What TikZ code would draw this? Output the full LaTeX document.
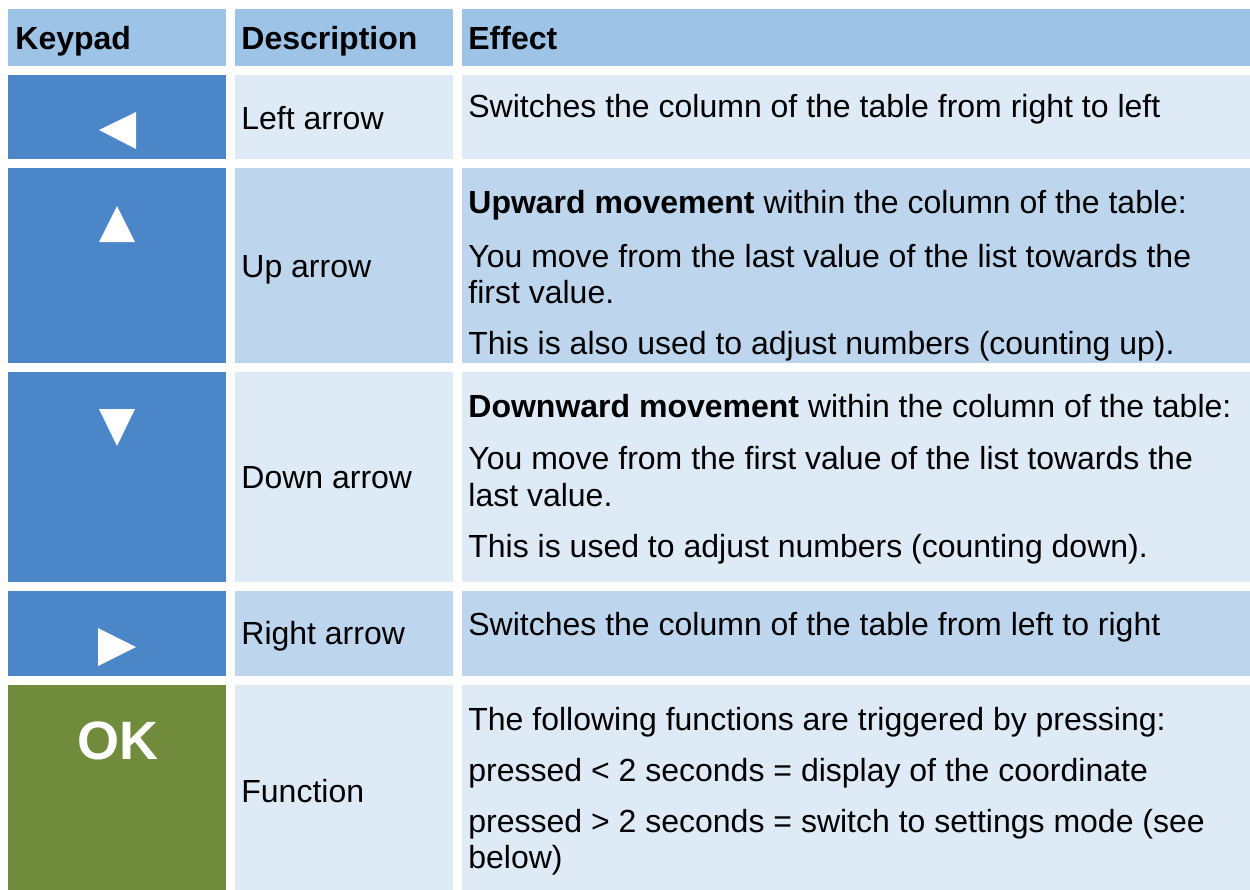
\documentclass[tikz,border=0pt]{standalone}
\usepackage{fontspec}
\setmainfont{Liberation Sans}
\usetikzlibrary{positioning}
\definecolor{headblue}{HTML}{9DC3E6}
\definecolor{keyblue}{HTML}{4A86C8}
\definecolor{rowlight}{HTML}{DEEAF6}
\definecolor{rowmid}{HTML}{BDD6EE}
\definecolor{okgreen}{HTML}{6F8B3B}
\begin{document}
\begin{tikzpicture}[x=0.5pt,y=-0.5pt,
    every node/.style={font=\fontsize{16}{18}\selectfont, inner sep=0pt, anchor=base west},
    head/.style={font=\fontsize{16}{18}\selectfont\bfseries},
    okkey/.style={font=\fontsize{27}{30}\selectfont\bfseries, text=white, anchor=base}]
                \useasboundingbox (0,0) rectangle (1250,890);
                % header
                \fill[headblue] (8,9) rectangle (226,66);
                \fill[headblue] (235,9) rectangle (453,66);
                \fill[headblue] (462,9) rectangle (1250,66);
                \node[head] (hkey) at (15,49) {Keypad};
                \node[head] (hdesc) at (241,49) {Description};
                \node[head] (heff) at (468,49) {Effect};
                % left arrow
                \fill[keyblue] (8,75) rectangle (226,159);
                \fill[rowlight] (235,75) rectangle (453,159);
                \fill[rowlight] (462,75) rectangle (1250,159);
                \fill[white] (99,130) -- (136,112) -- (136,149) -- cycle;
                \node (dleft) at (241,129) {Left arrow};
                \node (eleft) at (468,117) {Switches the column of the table from right to left};
                % up arrow
                \fill[keyblue] (8,168) rectangle (226,363);
                \fill[rowmid] (235,168) rectangle (453,363);
                \fill[rowmid] (462,168) rectangle (1250,363);
                \fill[white] (117,206) -- (135,242) -- (99,242) -- cycle;
                \node (dup) at (241,277) {Up arrow};
                \node (eup1) at (468,213) {\textbf{Upward movement} within the column of the table:};
                \node (eup2) at (468,267) {You move from the last value of the list towards the};
                \node (eup3) at (468,303) {first value.};
                \node (eup4) at (468,354) {This is also used to adjust numbers (counting up).};
                % down arrow
                \fill[keyblue] (8,372) rectangle (226,582);
                \fill[rowlight] (235,372) rectangle (453,582);
                \fill[rowlight] (462,372) rectangle (1250,582);
                \fill[white] (99,409) -- (135,409) -- (117,446) -- cycle;
                \node (ddown) at (241,488) {Down arrow};
                \node (edown1) at (468,417) {\textbf{Downward movement} within the column of the table:};
                \node (edown2) at (468,469) {You move from the first value of the list towards the};
                \node (edown3) at (468,506) {last value.};
                \node (edown4) at (468,557) {This is used to adjust numbers (counting down).};
                % right arrow
                \fill[keyblue] (8,591) rectangle (226,676);
                \fill[rowmid] (235,591) rectangle (453,676);
                \fill[rowmid] (462,591) rectangle (1250,676);
                \fill[white] (98,628) -- (136,647) -- (98,666) -- cycle;
                \node (dright) at (241,644) {Right arrow};
                \node (eright) at (468,635) {Switches the column of the table from left to right};
                % OK
                \fill[okgreen] (8,685) rectangle (226,890);
                \fill[rowlight] (235,685) rectangle (453,890);
                \fill[rowlight] (462,685) rectangle (1250,890);
                \node[okkey] (ok) at (118,759) {OK};
                \node (dfunc) at (241,802) {Function};
                \node (efunc1) at (468,730) {The following functions are triggered by pressing:};
                \node (efunc2) at (468,781) {pressed < 2 seconds = display of the coordinate};
                \node (efunc3) at (468,832) {pressed > 2 seconds = switch to settings mode (see};
                \node (efunc4) at (468,868) {below)};
            \end{tikzpicture}
\end{document}
